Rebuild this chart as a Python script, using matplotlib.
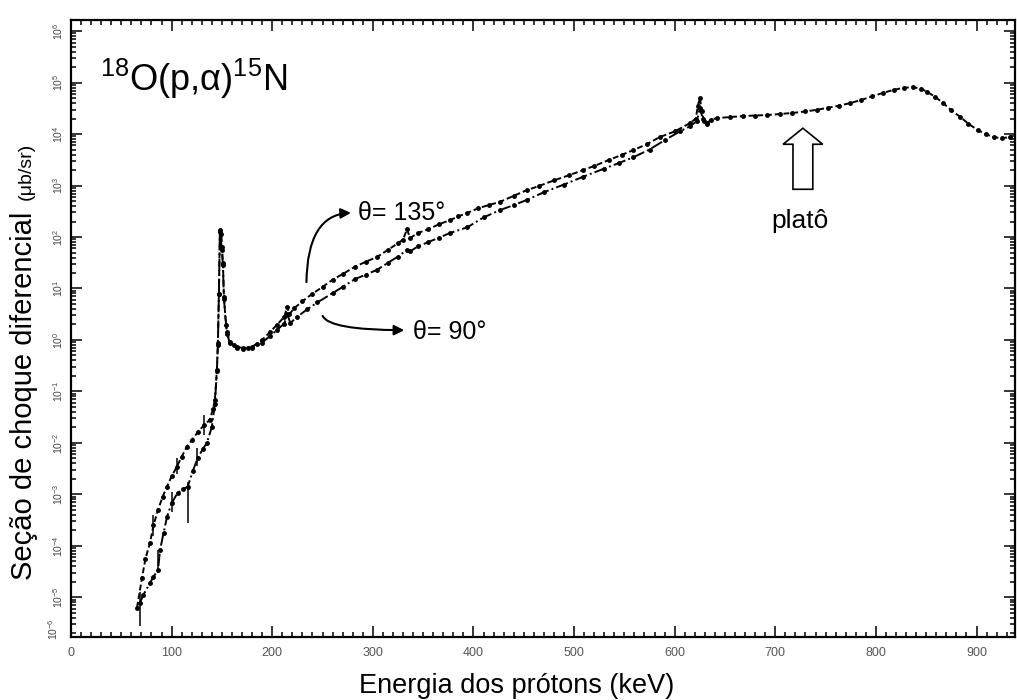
import matplotlib
matplotlib.use("Agg")
import matplotlib.pyplot as plt
from matplotlib.patches import FancyArrow
from matplotlib.ticker import MultipleLocator, LogLocator, FixedLocator, NullFormatter
import numpy as np

plt.rcParams['font.family'] = ['Liberation Sans', 'DejaVu Sans']
plt.rcParams['mathtext.fontset'] = 'custom'
plt.rcParams['mathtext.rm'] = 'Liberation Sans'
plt.rcParams['mathtext.it'] = 'Liberation Sans:italic'

# theta = 135 deg : energy (keV), log10 of cross section (ub/sr)
e135 = [65.6, 70.6, 74, 78.5, 82, 86.5, 91, 95.4, 100, 105, 110, 115, 120, 126, 132,
        138, 141, 143, 145, 146, 147, 148, 149.5, 150, 151, 152, 154, 155, 158, 162,
        165, 171, 176, 180, 185, 190, 198, 205, 212, 215, 217, 222, 230, 240, 250,
        260, 270, 282, 293, 304, 315, 325, 330, 334, 337, 345, 355, 366, 377, 385,
        394, 405, 415, 426, 440, 453, 465, 480, 495, 509, 520, 535, 548, 559, 572,
        585, 600, 615, 621, 623, 625, 627, 629, 632, 636, 642, 655, 668, 680, 692,
        705, 717, 730, 741, 752, 763, 774, 785, 796, 807, 818, 828, 837, 845, 851,
        859, 867, 875, 884, 892, 901, 909, 917, 925, 933]
l135 = [-5.20, -4.62, -4.25, -3.94, -3.60, -3.30, -3.05, -2.85, -2.65, -2.47, -2.27,
        -2.08, -1.95, -1.79, -1.66, -1.55, -1.35, -1.17, -0.58, -0.06, 0.90, 2.14,
        2.05, 1.80, 1.50, 0.84, 0.30, 0.16, -0.04, -0.10, -0.13, -0.16, -0.15, -0.13,
        -0.07, 0.00, 0.16, 0.30, 0.45, 0.65, 0.50, 0.62, 0.75, 0.90, 1.03, 1.17, 1.28,
        1.42, 1.52, 1.61, 1.75, 1.88, 1.95, 2.15, 1.98, 2.08, 2.15, 2.25, 2.33, 2.40,
        2.47, 2.56, 2.62, 2.68, 2.80, 2.91, 2.99, 3.10, 3.20, 3.30, 3.38, 3.50, 3.60,
        3.69, 3.80, 3.94, 4.05, 4.21, 4.30, 4.55, 4.70, 4.45, 4.25, 4.21, 4.28, 4.31,
        4.33, 4.35, 4.36, 4.37, 4.39, 4.41, 4.44, 4.47, 4.51, 4.55, 4.60, 4.66, 4.73,
        4.80, 4.86, 4.90, 4.91, 4.88, 4.82, 4.72, 4.60, 4.46, 4.33, 4.20, 4.08, 4.00,
        3.94, 3.92, 3.94]

# theta = 90 deg
e90 = [68.6, 72, 78.5, 82, 86.5, 88.5, 92, 95.4, 100, 106, 111, 116, 121, 126, 131,
       135, 140, 143, 145, 146, 147, 148, 150, 151, 152, 155, 158, 165, 171, 180, 190,
       198, 205, 212, 215, 218, 225, 235, 245, 260, 270, 282, 293, 304, 315, 325, 334,
       337, 345, 355, 366, 377, 394, 410, 426, 440, 453, 470, 490, 509, 530, 545, 559,
       575, 590, 605, 615, 622, 625, 628, 632]
l90 = [-5.10, -4.95, -4.72, -4.60, -4.47, -4.08, -3.75, -3.44, -3.17, -2.97, -2.90,
       -2.85, -2.55, -2.29, -2.12, -2.00, -1.69, -1.25, -0.60, -0.10, 0.90, 2.10, 1.75,
       1.45, 0.80, 0.12, -0.06, -0.15, -0.17, -0.15, -0.05, 0.08, 0.20, 0.32, 0.50,
       0.33, 0.45, 0.60, 0.73, 0.91, 1.03, 1.18, 1.27, 1.36, 1.50, 1.62, 1.75, 1.72,
       1.82, 1.90, 1.99, 2.08, 2.19, 2.38, 2.52, 2.62, 2.72, 2.87, 3.02, 3.17, 3.33,
       3.44, 3.55, 3.70, 3.88, 4.05, 4.15, 4.25, 4.50, 4.30, 4.20]

# error bars at low energy: energy, log10 centre, log10 low, log10 high
err_e = [69, 82, 86.5, 100, 105, 116, 125, 132]
err_c = [-5.10, -3.60, -4.47, -3.17, -2.47, -2.85, -2.30, -1.66]
err_lo = [-5.55, -3.80, -4.52, -3.35, -2.60, -3.55, -2.45, -1.85]
err_hi = [-4.90, -3.40, -4.08, -2.95, -2.30, -2.75, -2.10, -1.45]

fig = plt.figure(figsize=(10.17, 7), dpi=100)
ax = fig.add_axes([0.0698, 0.09, 0.928, 0.881])

ax.plot(e135, 10 ** np.array(l135), color='black', lw=1.4, ls=(0, (3, 1.5)),
        marker='.', ms=5)
ax.plot(e90, 10 ** np.array(l90), color='black', lw=1.4, ls='-.',
        marker='.', ms=5)
c = 10 ** np.array(err_c)
ax.errorbar(err_e, c, yerr=[c - 10 ** np.array(err_lo), 10 ** np.array(err_hi) - c],
            fmt='none', ecolor='black', elinewidth=1.1)

ax.set_yscale('log')
ax.set_xlim(0, 938)
ax.set_ylim(10 ** -5.77, 10 ** 6.21)

ax.xaxis.set_major_locator(MultipleLocator(100))
ax.xaxis.set_minor_locator(MultipleLocator(10))
ax.yaxis.set_major_locator(FixedLocator([10.0 ** k for k in range(-5, 7)]))
ax.yaxis.set_minor_locator(LogLocator(base=10, subs=np.arange(2, 10), numticks=20))
ax.yaxis.set_minor_formatter(NullFormatter())
ax.set_yticklabels([r'$10^{%d}$' % k for k in range(-5, 7)], rotation=90,
                   va='center', fontsize=7.5, color='#444444')
ax.tick_params(which='both', direction='in', top=True, right=True, width=1.1)
ax.tick_params(which='major', length=8)
ax.tick_params(which='minor', length=3.5)
ax.tick_params(axis='x', labelsize=9, labelcolor='#555555', pad=7)
ax.tick_params(axis='y', pad=4)
for s in ax.spines.values():
    s.set_linewidth(1.6)

ax.text(-0.012, 0.012, r'$10^{-6}$', transform=ax.transAxes, rotation=90,
        fontsize=7.5, color='#444444', ha='right', va='center')

fig.text(0.508, 0.01, 'Energia dos prótons (keV)', fontsize=19.5,
         ha='center', va='baseline')
fig.text(0.024, 1 - 580 / 700, 'Seção de choque diferencial', rotation=90,
         fontsize=21, ha='center', va='bottom')
fig.text(0.026, 1 - 200 / 700, '(μb/sr)', rotation=90, fontsize=14,
         ha='center', va='bottom')

ax.text(0.031, 0.905, r'$^{18}$O(p,α)$^{15}$N', transform=ax.transAxes,
        fontsize=26, va='center', ha='left')

ax.text(285, 10 ** 2.47, 'θ= 135°', fontsize=18, va='center', ha='left')
ax.text(340, 10 ** 0.16, 'θ= 90°', fontsize=18, va='center', ha='left')
ax.text(0.742, 0.675, 'platô', transform=ax.transAxes, fontsize=19,
        va='center', ha='left')

arrow_kw = dict(arrowstyle='-|>', color='black', lw=1.5, mutation_scale=15)
ax.annotate('', xy=(281, 10 ** 2.47), xytext=(234, 10 ** 1.07),
            arrowprops=dict(connectionstyle='angle3,angleA=90,angleB=0', **arrow_kw))
ax.annotate('', xy=(334, 10 ** 0.19), xytext=(249.5, 10 ** 0.52),
            arrowprops=dict(connectionstyle='angle3,angleA=90,angleB=0', **arrow_kw))

ax.add_patch(FancyArrow(0.7755, 0.726, 0, 0.099, width=0.021, head_width=0.042,
                        head_length=0.026, length_includes_head=True,
                        transform=ax.transAxes, fc='white', ec='black', lw=1.2))

fig.savefig('out.png', dpi=100)
